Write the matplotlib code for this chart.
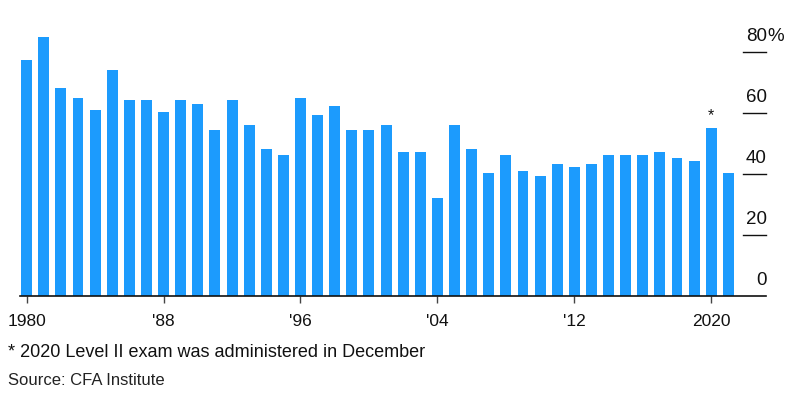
import matplotlib
matplotlib.use("Agg")
import matplotlib.pyplot as plt
import matplotlib.transforms as mtransforms

plt.rcParams["font.family"] = ["Liberation Sans", "DejaVu Sans"]

# pass rates (%)
years = list(range(1980, 2022))
pass_rate = [77.4, 85.0, 68.1, 64.9, 61.0, 74.1, 64.2, 64.2, 60.2, 64.2,
             63.0, 54.2, 64.2, 56.1, 48.2, 46.1, 64.9, 59.3, 62.2, 54.2,
             54.2, 56.1, 47.0, 47.0, 32.1, 56.1, 48.2, 40.1, 46.1, 41.0,
             39.3, 43.0, 42.2, 43.0, 46.1, 46.1, 46.1, 47.0, 45.0, 44.2,
             55.0, 40.1]
tick_years = [1980, 1988, 1996, 2004, 2012, 2020]
tick_labels = ["1980", "'88", "'96", "'04", "'12", "2020"]
y_ticks = [0, 20, 40, 60, 80]

bar_color = "#1c9bfd"

fig = plt.figure(figsize=(7.94, 3.97), dpi=100)
ax = fig.add_axes([20 / 794, 101.5 / 397, 746 / 794, 259 / 397])

ax.bar(years, pass_rate, width=0.64, color=bar_color, zorder=2)
ax.set_xlim(1979.61, 2023.2)
ax.set_ylim(0, 85)

for s in ["top", "right", "left"]:
    ax.spines[s].set_visible(False)
ax.spines["bottom"].set_color("#111111")
ax.spines["bottom"].set_linewidth(1.2)
ax.spines["bottom"].set_zorder(3)

ax.set_yticks([])
ax.set_xticks(tick_years)
ax.set_xticklabels(tick_labels, fontsize=12.5, color="#111111")
ax.tick_params(axis="x", length=5, width=1, color="#444444", pad=8)

# right-hand scale: short lines with labels sitting above them
trans = mtransforms.blended_transform_factory(ax.transAxes, ax.transData)
for v in y_ticks:
    if v > 0:
        ax.plot([0.969, 1.0], [v, v], color="#111111", lw=1, transform=trans,
                clip_on=False)
    ax.text(1.0013, v + 3.6, str(v), transform=trans, ha="right",
            va="baseline", fontsize=13.5, color="#111111")
ax.text(1.0013, y_ticks[-1] + 3.6, "%", transform=trans, ha="left",
        va="baseline", fontsize=13.5, color="#111111")

# asterisk over 2020
ax.text(2020, pass_rate[years.index(2020)] + 1.6, "*", ha="center",
        va="bottom", fontsize=11.5, color="#111111")

fig.text(8 / 794, 0.1008, "* 2020 Level II exam was administered in December",
         fontsize=13, color="#111111", va="baseline")
fig.text(8 / 794, 0.030, "Source: CFA Institute", fontsize=12,
         color="#222222", va="baseline")

fig.savefig("out.png", dpi=100)
